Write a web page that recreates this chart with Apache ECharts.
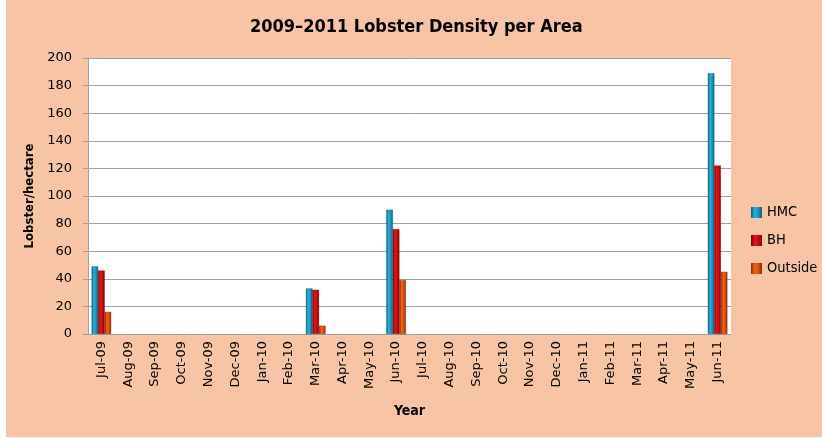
<!DOCTYPE html>
<html>
<head>
<meta charset="utf-8">
<script src="https://cdn.jsdelivr.net/npm/echarts@6/dist/echarts.min.js"></script>
<style>
  html, body { margin: 0; padding: 0; background: #ffffff; }
  #chart { width: 822px; height: 438px; }
</style>
</head>
<body>
<div id="chart"></div>
<script>
// Survey months
const months = ['Jul-09','Aug-09','Sep-09','Oct-09','Nov-09','Dec-09','Jan-10','Feb-10','Mar-10','Apr-10','May-10',
  'Jun-10','Jul-10','Aug-10','Sep-10','Oct-10','Nov-10','Dec-10','Jan-11','Feb-11','Mar-11','Apr-11','May-11','Jun-11'];

// Lobster density (lobster/hectare); null = no survey that month
const hmc     = [49, null, null, null, null, null, null, null, 33, null, null, 90, null, null, null, null, null, null, null, null, null, null, null, 189];
const bh      = [46, null, null, null, null, null, null, null, 32, null, null, 76, null, null, null, null, null, null, null, null, null, null, null, 122];
const outside = [16, null, null, null, null, null, null, null, 6,  null, null, 39, null, null, null, null, null, null, null, null, null, null, null, 45];

const yTicks = { min: 0, max: 200, step: 20 };

function shade(dark, mid, light) {
  return new echarts.graphic.LinearGradient(0, 0, 1, 0, [
    { offset: 0, color: dark },
    { offset: 0.35, color: light },
    { offset: 0.7, color: mid },
    { offset: 1, color: dark }
  ]);
}

const chart = echarts.init(document.getElementById('chart'), null, { renderer: 'canvas' });
const font = '"DejaVu Sans", sans-serif';
const condensed = '"DejaVu Sans Condensed", "DejaVu Sans", sans-serif';

chart.setOption({
  animation: false,
  backgroundColor: '#ffffff',
  graphic: [{
    type: 'rect', z: -10, silent: true,
    shape: { x: 6, y: 0, width: 816, height: 437 },
    style: { fill: '#f7c4a5' }
  }],
  title: {
    text: '2009\u20132011 Lobster Density per Area',
    left: 245, top: 13,
    textStyle: { fontFamily: condensed, fontSize: 18, fontWeight: 'bold', color: '#000' }
  },
  grid: { left: 88, right: 91, top: 58, bottom: 104, backgroundColor: '#ffffff', show: true, borderWidth: 0 },
  legend: {
    orient: 'vertical', left: 746, top: 200, itemGap: 13,
    itemWidth: 11, itemHeight: 11, icon: 'rect',
    itemStyle: { borderWidth: 0 },
    textStyle: { fontFamily: condensed, fontSize: 14.5, color: '#000' },
    data: ['HMC', 'BH', 'Outside']
  },
  xAxis: {
    type: 'category', data: months,
    name: 'Year', nameLocation: 'middle', nameGap: 70,
    nameTextStyle: { fontFamily: condensed, fontSize: 14, fontWeight: 'bold', color: '#000' },
    axisLine: { lineStyle: { color: '#a0a0a0' } },
    axisTick: { show: false },
    axisLabel: { rotate: 90, interval: 0, fontFamily: font, fontSize: 13, color: '#000', margin: 7 }
  },
  yAxis: {
    type: 'value', min: yTicks.min, max: yTicks.max, interval: yTicks.step,
    name: 'Lobster/hectare', nameLocation: 'middle', nameGap: 44, nameRotate: 90,
    nameTextStyle: { fontFamily: condensed, fontSize: 13, fontWeight: 'bold', color: '#000' },
    axisLine: { show: true, lineStyle: { color: '#a0a0a0' } },
    axisTick: { show: true, length: 5, lineStyle: { color: '#a0a0a0' } },
    axisLabel: { fontFamily: font, fontSize: 13, color: '#000', margin: 16 },
    splitLine: { lineStyle: { color: '#a0a0a0', width: 1 } }
  },
  series: [
    { name: 'HMC', type: 'bar', data: hmc, barWidth: 6.5, barGap: '0%',
      itemStyle: { color: shade('#0b5f78', '#1a8fb4', '#2cb0d8'), borderColor: '#0b5670', borderWidth: 0.4 } },
    { name: 'BH', type: 'bar', data: bh, barWidth: 6.5, barGap: '0%',
      itemStyle: { color: shade('#7a0000', '#c40a12', '#e8141c'), borderColor: '#6a0000', borderWidth: 0.4 } },
    { name: 'Outside', type: 'bar', data: outside, barWidth: 6.5, barGap: '0%',
      itemStyle: { color: shade('#8a2a06', '#d44e0c', '#f06416'), borderColor: '#7a2806', borderWidth: 0.4 } }
  ]
});
</script>
</body>
</html>
